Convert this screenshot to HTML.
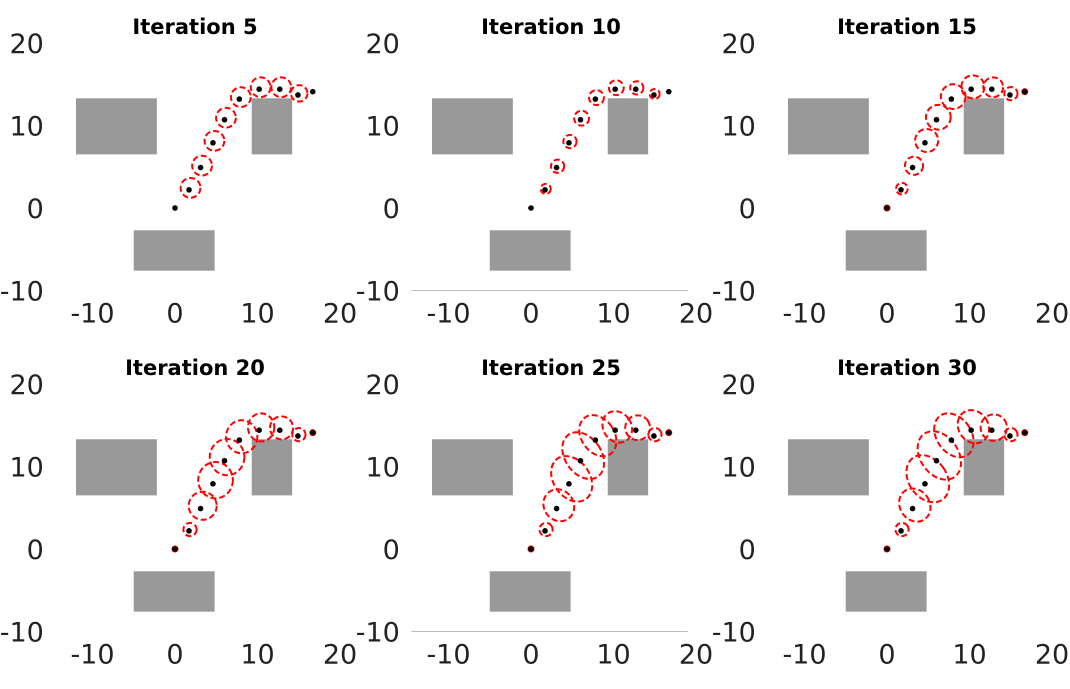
<!DOCTYPE html>
<html><head><meta charset="utf-8"><style>
body{margin:0;background:#fff;font-family:"Liberation Sans","DejaVu Sans",sans-serif}
svg text{font-family:"DejaVu Sans","Liberation Sans",sans-serif}
</style></head><body>
<svg id="c" width="1070" height="684"></svg>
<script>
const titles=["Iteration 5","Iteration 10","Iteration 15","Iteration 20","Iteration 25","Iteration 30"];
const xs=[0,1.7,3.1,4.6,6.0,7.8,10.2,12.7,14.9,16.7];
const ys=[0,2.2,4.9,7.9,10.7,13.2,14.4,14.4,13.7,14.1];
const radiiX=[[1.2,1.2,1.2,1.2,1.2,1.2,1.2,1.0],[0.6,0.8,0.8,0.9,0.9,0.9,0.8,0.6],[0.7,1.1,1.4,1.5,1.5,1.4,1.2,0.8],[0.8,1.7,2.1,2.1,1.9,1.6,1.4,0.8],[0.8,1.8,2.2,2.2,2.0,1.7,1.5,0.8],[0.8,1.8,2.3,2.3,2.1,1.8,1.6,0.8]];
const radiiY=[[1.2,1.2,1.2,1.2,1.2,1.2,1.2,1.0],[0.6,0.8,0.8,0.9,0.9,0.9,0.8,0.6],[0.7,1.1,1.4,1.5,1.5,1.4,1.2,0.8],[0.8,1.7,2.2,2.2,2.0,1.7,1.4,0.8],[0.8,2.0,3.0,3.1,2.7,2.0,1.5,0.8],[0.8,2.1,3.1,3.2,2.9,2.1,1.6,0.8]];
const tilt=[0,0,0,0,-35,-35];
const obstacles=[[-12,6.5,9.8,6.8],[9.3,6.5,4.9,6.8],[-5,-7.6,9.8,4.9]];
const xticks=[-10,0,10,20], yticks=[-10,0,10,20];
const svg=document.getElementById('c');const NS="http://www.w3.org/2000/svg";
function mk(t,a,p){const e=document.createElementNS(NS,t);for(const k in a)e.setAttribute(k,a[k]);p.appendChild(e);return e;}
const S=8.25;
titles.forEach((tt,i)=>{
 const ox=175+356*(i%3), oy=208+341*Math.floor(i/3);
 const X=v=>ox+v*S, Y=v=>oy-v*S;
 const g=mk('g',{},svg);
 
 
 const t=mk('text',{x:ox+20,y:oy-174,'text-anchor':'middle','font-size':21,'font-weight':'bold',fill:'#000'},g);t.textContent=tt;
 
 
 if(i%3==1){const l=mk('line',{x1:X(-14.5),x2:X(19),y1:Y(-10),y2:Y(-10),stroke:'#bbb','stroke-width':1},g);
 
 }
 xticks.forEach(v=>{const e=mk('text',{x:X(v),y:Y(-10)+32,'text-anchor':'middle','font-size':27,fill:'#222'},g);e.textContent=v;
 
 });
 yticks.forEach(v=>{const e=mk('text',{x:X(-15.9),y:Y(v)+10,'text-anchor':'end','font-size':27,fill:'#222'},g);e.textContent=v;
 
 });
 obstacles.forEach(o=>{const r=mk('rect',{x:X(o[0]),y:Y(o[1]+o[3]),width:o[2]*S,height:o[3]*S,fill:'#999'},g);
 
 });
 for(let k=1;k<=8;k++){
  const cx=X(xs[k])+radiiX[i][k-1]*S*0.15, cy=Y(ys[k])-radiiY[i][k-1]*S*0.2;
  const e=mk('ellipse',{cx:cx,cy:cy,rx:radiiX[i][k-1]*S,ry:radiiY[i][k-1]*S,fill:'none',stroke:'#f00','stroke-width':2,'stroke-dasharray':'6 3',transform:`rotate(${tilt[i]} ${cx} ${cy})`},g);
  
  
 }
 if(i>=2){[0,9].forEach(k=>{const e=mk('circle',{cx:X(xs[k]),cy:Y(ys[k]),r:3.5,fill:'#e00'},g);
 
 });}
 xs.forEach((v,k)=>{const d=mk('circle',{cx:X(v),cy:Y(ys[k]),r:2.8,fill:'#000'},g);
 
 });
});
</script></body></html>
